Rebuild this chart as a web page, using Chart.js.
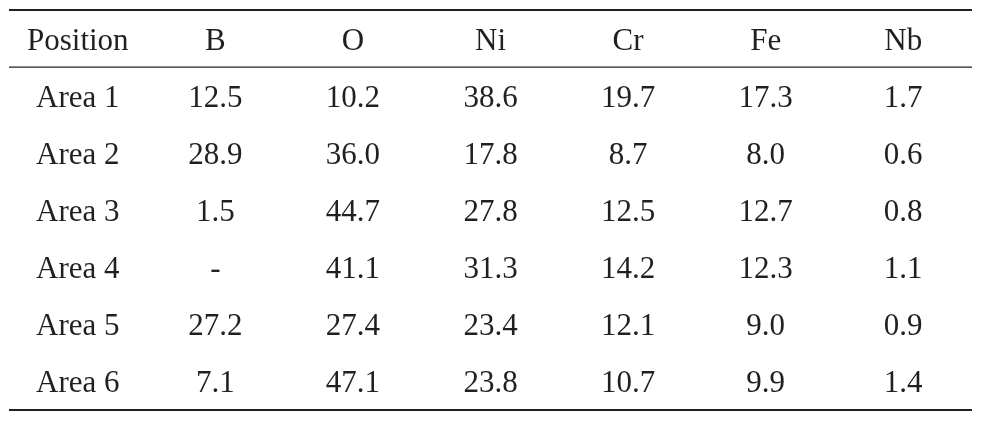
<!DOCTYPE html>
<html>
<head>
<meta charset="utf-8">
<script src="https://cdn.jsdelivr.net/npm/chart.js@4.4.1/dist/chart.umd.min.js"></script>
<style>
  html, body { margin: 0; padding: 0; background: #fff; }
  #wrap { width: 985px; height: 443px; }
</style>
</head>
<body>
<div id="wrap"><canvas id="myChart"></canvas></div>
<script>
// table data
const columns = ['Position', 'B', 'O', 'Ni', 'Cr', 'Fe', 'Nb'];
const positions = ['Area 1', 'Area 2', 'Area 3', 'Area 4', 'Area 5', 'Area 6'];
const valB  = [12.5, 28.9, 1.5, null, 27.2, 7.1];
const valO  = [10.2, 36.0, 44.7, 41.1, 27.4, 47.1];
const valNi = [38.6, 17.8, 27.8, 31.3, 23.4, 23.8];
const valCr = [19.7, 8.7, 12.5, 14.2, 12.1, 10.7];
const valFe = [17.3, 8.0, 12.7, 12.3, 9.0, 9.9];
const valNb = [1.7, 0.6, 0.8, 1.1, 0.9, 1.4];

const series = [valB, valO, valNi, valCr, valFe, valNb];
const rowLabels = ['Position'].concat(positions);

const INK = '#231f20';
const FONT = '31px "Liberation Serif", "Times New Roman", serif';

const tablePlugin = {
    id: 'tableDraw',
    afterDraw(chart) {
        const c = chart.ctx;
        const x = chart.scales.x;
        const y = chart.scales.y;
        const area = chart.chartArea;
        c.save();
        c.fillStyle = INK;
        c.font = FONT;
        c.textAlign = 'center';
        c.textBaseline = 'alphabetic';
        const dy = 11;
        // header row
        columns.forEach((col, i) => {
            c.fillText(col, x.getPixelForValue(i), y.getPixelForValue(0) + dy);
        });
        // body rows
        positions.forEach((p, r) => {
            const py = y.getPixelForValue(r + 1) + dy;
            c.fillText(p, x.getPixelForValue(0), py);
            series.forEach((s, k) => {
                const v = s[r];
                c.fillText(v === null ? '-' : v.toFixed(1), x.getPixelForValue(k + 1), py);
            });
        });
        // rules
        c.strokeStyle = INK;
        const rule = (yy, w) => {
            c.lineWidth = w;
            c.beginPath();
            c.moveTo(area.left, yy);
            c.lineTo(area.right, yy);
            c.stroke();
        };
        rule(area.top, 2);
        rule((y.getPixelForValue(0) + y.getPixelForValue(1)) / 2, 1.2);
        rule(area.bottom, 2);
        c.restore();
    }
};

const ctx = document.getElementById('myChart');
const myChart = new Chart(ctx, {
    type: 'bar',
    data: {
        labels: columns,
        datasets: []
    },
    options: {
        responsive: true,
        maintainAspectRatio: false,
        animation: false,
        layout: {
            padding: { left: 9, right: 13, top: 10, bottom: 33 }
        },
        plugins: {
            legend: { display: false },
            title: { display: false },
            tooltip: { enabled: false }
        },
        scales: {
            x: {
                type: 'category',
                offset: true,
                display: false
            },
            y: {
                type: 'category',
                labels: rowLabels,
                offset: true,
                display: false
            }
        }
    },
    plugins: [tablePlugin]
});
</script>
</body>
</html>
